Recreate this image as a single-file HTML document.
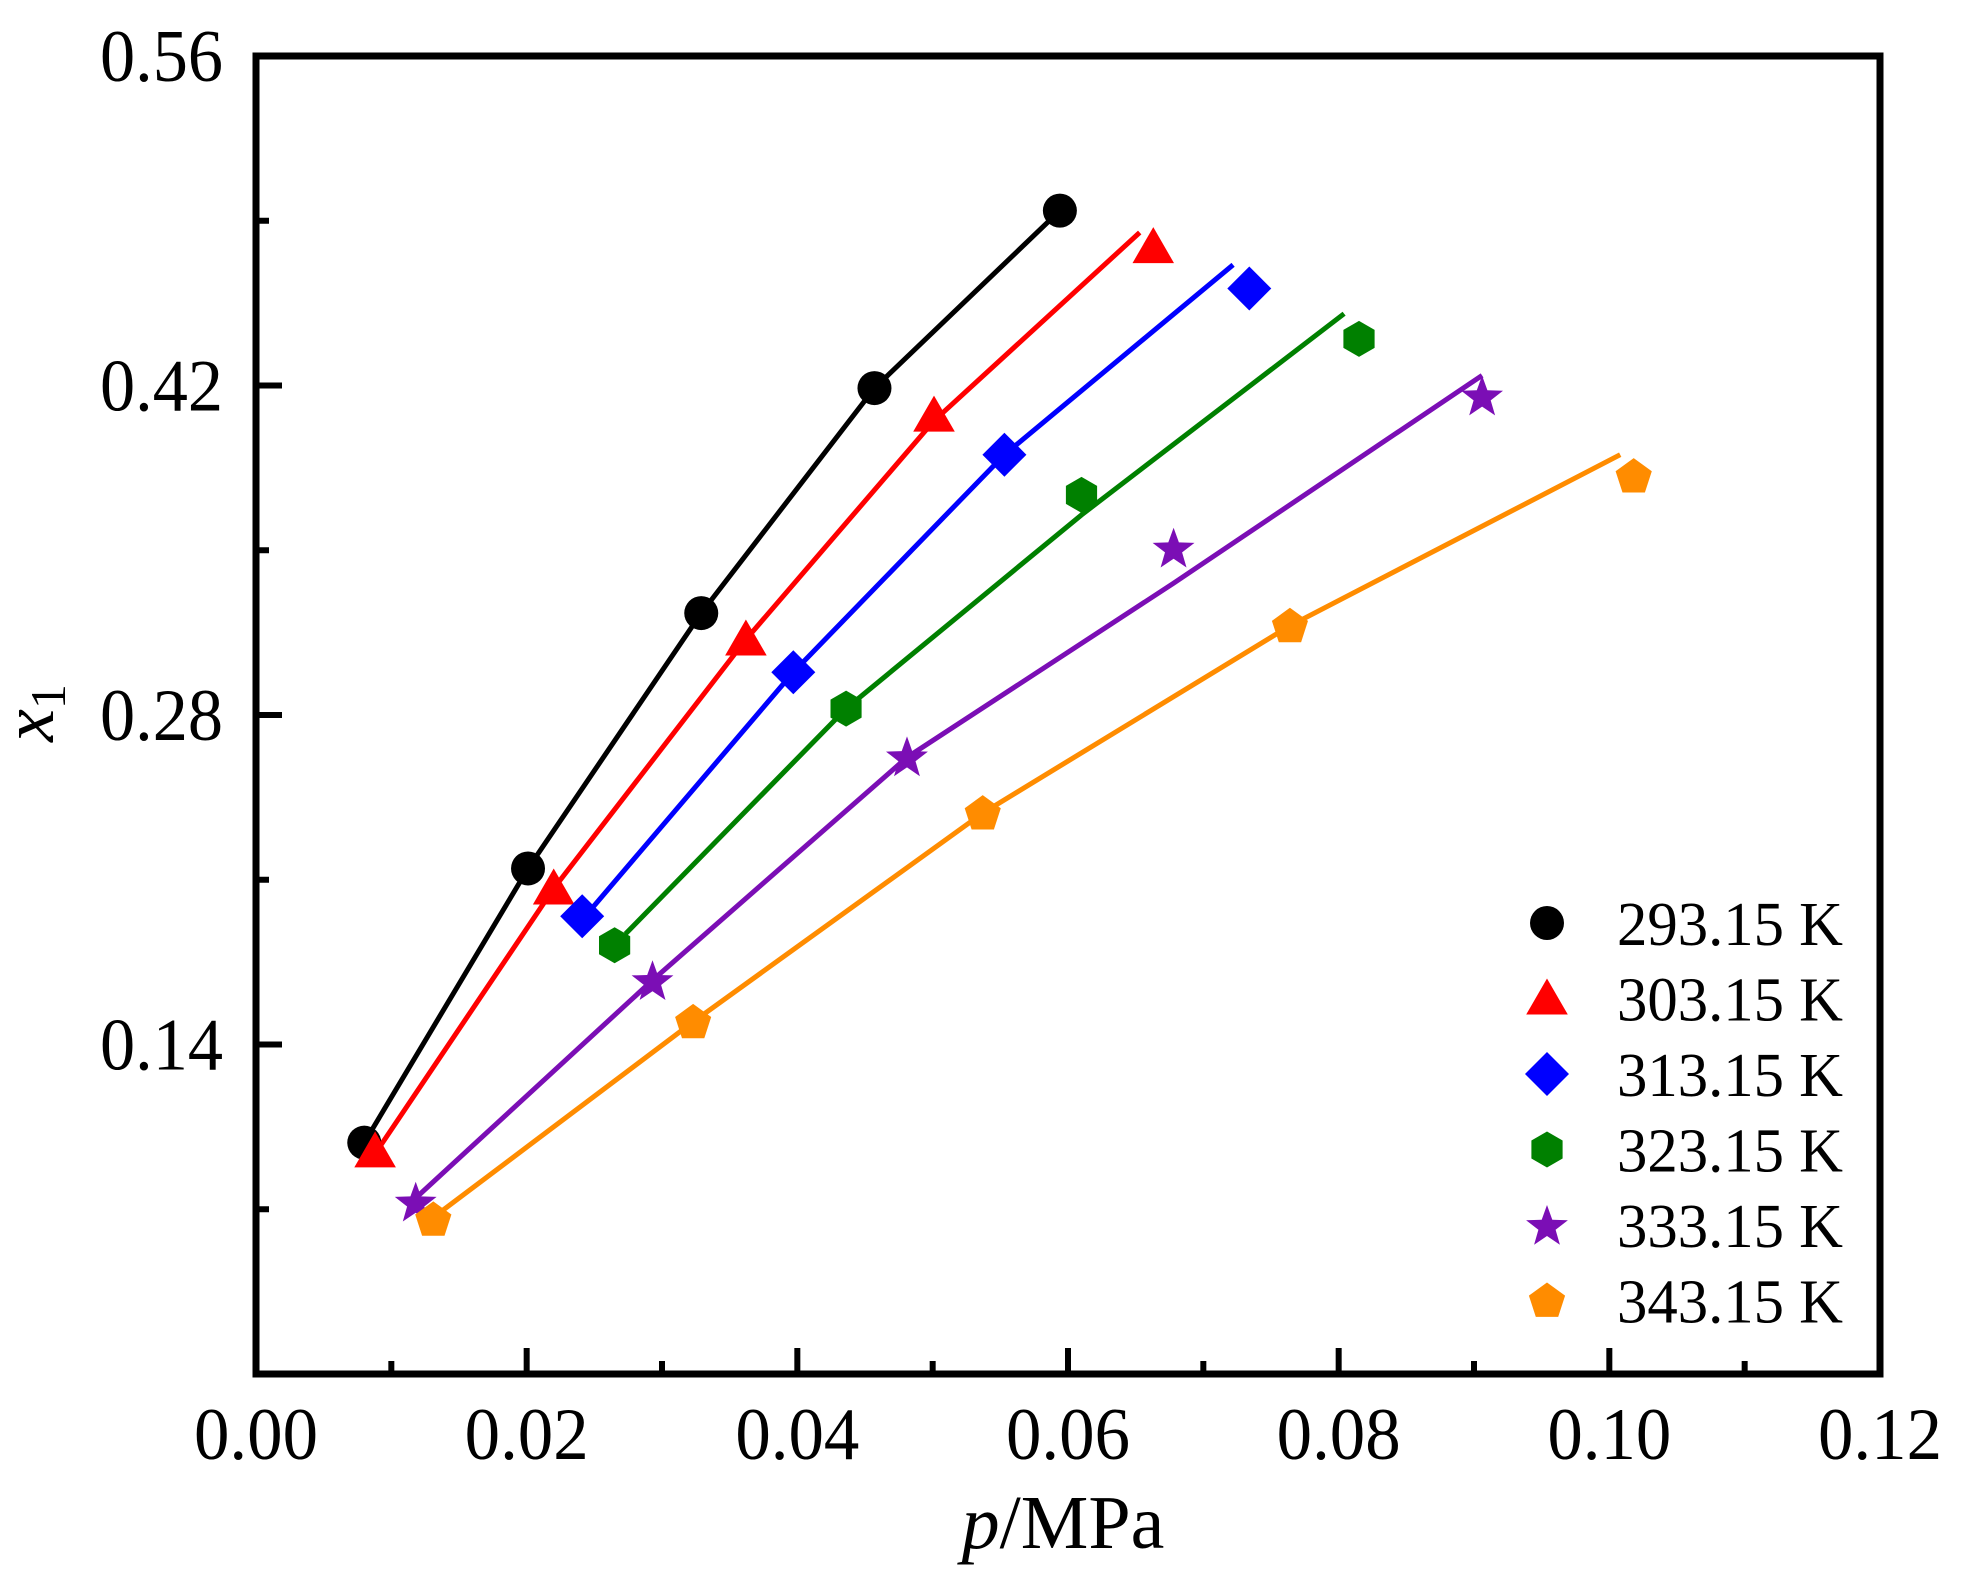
<!DOCTYPE html>
<html><head><meta charset="utf-8"><style>
html,body{margin:0;padding:0;background:#fff}
svg{display:block}
text{font-family:"Liberation Serif",serif;fill:#000}
</style></head><body>
<svg id="chart" width="1968" height="1583" viewBox="0 0 1968 1583" xmlns="http://www.w3.org/2000/svg">
<g id="lines"></g>
<g id="marks"></g>
<g id="axes"></g>
<g id="legend"></g>
</svg>
<script>
const xTicks=[0,0.02,0.04,0.06,0.08,0.10,0.12];
const xTickLabels=["0.00","0.02","0.04","0.06","0.08","0.10","0.12"];
const yTicks=[0.14,0.28,0.42,0.56];
const yTickLabels=["0.14","0.28","0.42","0.56"];
const seriesNames=["293.15 K","303.15 K","313.15 K","323.15 K","333.15 K","343.15 K"];
const p293=[0.0080,0.0201,0.0329,0.0457,0.0594];
const x293=[0.0983,0.2148,0.3233,0.4189,0.4943];
const p303=[0.0088,0.0220,0.0362,0.0501,0.0663];
const x303=[0.0946,0.2063,0.3121,0.4072,0.4788];
const p313=[0.0241,0.0397,0.0553,0.0734];
const x313=[0.1945,0.2982,0.3906,0.4612];
const p323=[0.0265,0.0436,0.0610,0.0815];
const x323=[0.1822,0.2827,0.3735,0.4398];
const p333=[0.0118,0.0293,0.0481,0.0678,0.0906];
const x333=[0.0732,0.1673,0.2624,0.3511,0.4157];
const p343=[0.0131,0.0323,0.0537,0.0764,0.1018];
const x343=[0.0657,0.1496,0.2383,0.3179,0.3815];
const fitP293=[0.0080,0.0201,0.0329,0.0457,0.0594];
const fitX293=[0.0983,0.2148,0.3233,0.4189,0.4943];
const fitP303=[0.0091,0.0220,0.0362,0.0501,0.0653];
const fitX303=[0.0962,0.2063,0.3121,0.4050,0.4850];
const fitP313=[0.0248,0.0397,0.0553,0.0722];
const fitX313=[0.1977,0.2982,0.3906,0.4713];
const fitP323=[0.0273,0.0436,0.0610,0.0804];
const fitX323=[0.1870,0.2827,0.3650,0.4505];
const fitP333=[0.0112,0.0293,0.0481,0.0678,0.0906];
const fitX333=[0.0716,0.1673,0.2620,0.3360,0.4243];
const fitP343=[0.0128,0.0323,0.0537,0.0764,0.1008];
const fitX343=[0.0652,0.1496,0.2383,0.3179,0.3906];

const L=256,R=1880,T=56,B=1374;
const sx=v=>L+(v-0)/(0.12-0)*(R-L);
const sy=v=>B-(v-0)/(0.56-0)*(B-T);
const NS="http://www.w3.org/2000/svg";
const colors=["#000000","#ff0000","#0000ff","#008000","#7b0eb5","#ff8c00"];
const shapes=["circle","triangle","diamond","hexagon","star","pentagon"];
const pts=[[p293,x293],[p303,x303],[p313,x313],[p323,x323],[p333,x333],[p343,x343]];
const fits=[[fitP293,fitX293],[fitP303,fitX303],[fitP313,fitX313],[fitP323,fitX323],[fitP333,fitX333],[fitP343,fitX343]];
function mk(tag,attrs,parent){const e=document.createElementNS(NS,tag);for(const k in attrs)e.setAttribute(k,attrs[k]);parent.appendChild(e);return e;}
function poly(n,r,rot,cx,cy){let s=[];for(let i=0;i<n;i++){const a=rot+i*2*Math.PI/n;s.push((cx+r*Math.cos(a)).toFixed(1)+","+(cy+r*Math.sin(a)).toFixed(1));}return s.join(" ");}
function marker(shape,cx,cy,col,parent){
  let e;
  if(shape==="circle"){e=mk("circle",{cx:cx,cy:cy,r:17,fill:col},parent);}
  else if(shape==="triangle"){e=mk("polygon",{points:poly(3,24,-Math.PI/2,cx,cy+4),fill:col},parent);}
  else if(shape==="diamond"){e=mk("polygon",{points:poly(4,22,-Math.PI/2,cx,cy),fill:col},parent);}
  else if(shape==="hexagon"){e=mk("polygon",{points:poly(6,18,-Math.PI/2,cx,cy),fill:col},parent);}
  else if(shape==="pentagon"){e=mk("polygon",{points:poly(5,19,-Math.PI/2,cx,cy+1),fill:col},parent);}
  else {let s=[];for(let i=0;i<10;i++){const a=-Math.PI/2+i*Math.PI/5;const r=i%2?9:22;s.push((cx+r*Math.cos(a)).toFixed(1)+","+(cy+2+r*Math.sin(a)).toFixed(1));}e=mk("polygon",{points:s.join(" "),fill:col},parent);}
  return e;
}
const gl=document.getElementById("lines"),gm=document.getElementById("marks"),ga=document.getElementById("axes"),gg=document.getElementById("legend");
fits.forEach((f,i)=>{
  const d=f[0].map((p,j)=>(j?"L":"M")+sx(p).toFixed(1)+","+sy(f[1][j]).toFixed(1)).join(" ");
  const e=mk("path",{d:d,fill:"none",stroke:colors[i],"stroke-width":5,"stroke-linejoin":"round"},gl);
  
  
});
pts.forEach((s,i)=>{
  s[0].forEach((p,j)=>{
    const e=marker(shapes[i],sx(p),sy(s[1][j]),colors[i],gm);
    
    
  });
});
for(let k=0;k<=12;k++){
  const v=k*0.01,len=(k%2===0)?26:13;
  const e=mk("line",{x1:sx(v),x2:sx(v),y1:B,y2:B-len,stroke:"#000","stroke-width":6},ga);
  
  
}
for(let k=0;k<=8;k++){
  const v=k*0.07,len=(k%2===0)?26:13;
  const e=mk("line",{x1:L,x2:L+len,y1:sy(v),y2:sy(v),stroke:"#000","stroke-width":6},ga);
  
  
}
const fr=mk("rect",{x:L,y:T,width:R-L,height:B-T,fill:"none",stroke:"#000","stroke-width":7},ga);


xTicks.forEach((v,i)=>{
  const t=mk("text",{x:sx(v),y:1459,"text-anchor":"middle","font-size":74,textLength:124,lengthAdjust:"spacingAndGlyphs"},ga);
  t.textContent=xTickLabels[i];
  
  
});
yTicks.forEach((v,i)=>{
  const t=mk("text",{x:223,y:sy(v)+25,"text-anchor":"end","font-size":74,textLength:123,lengthAdjust:"spacingAndGlyphs"},ga);
  t.textContent=yTickLabels[i];
  
  
});
const xt=mk("text",{x:1063,y:1548,"text-anchor":"middle","font-size":76},ga);
xt.innerHTML='<tspan font-style="italic">p</tspan>/MPa';


const yt=mk("text",{x:0,y:0,"text-anchor":"middle","font-size":74,transform:"translate(53,713) rotate(-90)"},ga);
yt.innerHTML='<tspan font-style="italic">x</tspan><tspan font-size="50" dy="12">1</tspan>';


seriesNames.forEach((n,i)=>{
  const y=923+i*75.5;
  const m=marker(shapes[i],1547,y,colors[i],gg);
  
  
  const t=mk("text",{x:1617,y:y+22,"font-size":62,textLength:226,lengthAdjust:"spacingAndGlyphs"},gg);
  t.textContent=n;
  
  
});
</script>
</body></html>
